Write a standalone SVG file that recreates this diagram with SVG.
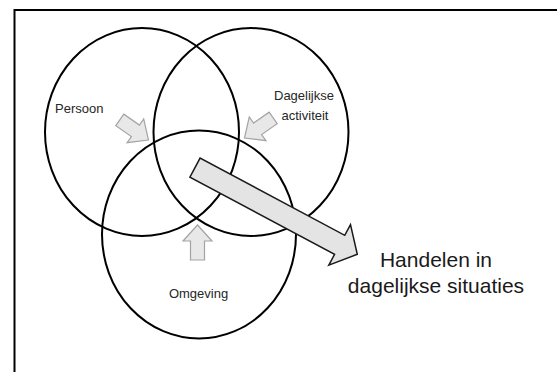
<svg xmlns="http://www.w3.org/2000/svg" width="557" height="372" viewBox="0 0 557 372">
  <style>
    .ring { fill: none; stroke: #000; stroke-width: 2; }
    .lbl { font-family: "Liberation Sans", Arial, sans-serif; font-size: 13px; fill: #262626; }
    .big { font-family: "Liberation Sans", Arial, sans-serif; font-size: 21px; fill: #1a1a1a; text-anchor: middle; }
    .small-arrow { fill: #e8e8e8; stroke: #a3a3a3; stroke-width: 1.2; stroke-linejoin: miter; }
    .main-arrow { fill: #e4e4e4; stroke: #1a1a1a; stroke-width: 1.5; stroke-linejoin: miter; }
  </style>
  <defs>
    <polygon id="smallArrow" points="0,0 14.5,16 7,16 7,35 -7,35 -7,16 -14.5,16"/>
  </defs>
  <rect x="0" y="0" width="557" height="372" fill="#fff"/>
  <rect id="frame" x="14.5" y="10" width="600" height="400" fill="none" stroke="#000" stroke-width="2"/>

  <g id="persoon">
    <ellipse class="ring" cx="142" cy="132" rx="97" ry="104"/>
    <text class="lbl" x="55" y="113">Persoon</text>
  </g>
  <g id="dagelijkse-activiteit">
    <ellipse class="ring" cx="251" cy="132" rx="97.5" ry="104"/>
    <text class="lbl" x="304" y="100" text-anchor="middle">Dagelijkse</text>
    <text class="lbl" x="305" y="119.5" text-anchor="middle">activiteit</text>
  </g>
  <g id="omgeving">
    <ellipse class="ring" cx="199" cy="234.5" rx="97" ry="104"/>
    <text class="lbl" x="198.5" y="297.5" text-anchor="middle">Omgeving</text>
  </g>

  <g id="connectors">
    <use href="#smallArrow" class="small-arrow" transform="translate(148.5,140) rotate(125)"/>
    <use href="#smallArrow" class="small-arrow" transform="translate(244.5,138) rotate(-125)"/>
    <use href="#smallArrow" class="small-arrow" transform="translate(197.5,225)"/>
    <polygon class="main-arrow" points="0,0 23,20 10.8,20 10.8,184 -10.8,184 -10.8,20 -23,20" transform="translate(357.3,254.3) rotate(118.1)"/>
  </g>

  <g id="handelen">
    <text class="big" x="436" y="266.5">Handelen in</text>
    <text class="big" x="436" y="292.5">dagelijkse situaties</text>
  </g>
</svg>
